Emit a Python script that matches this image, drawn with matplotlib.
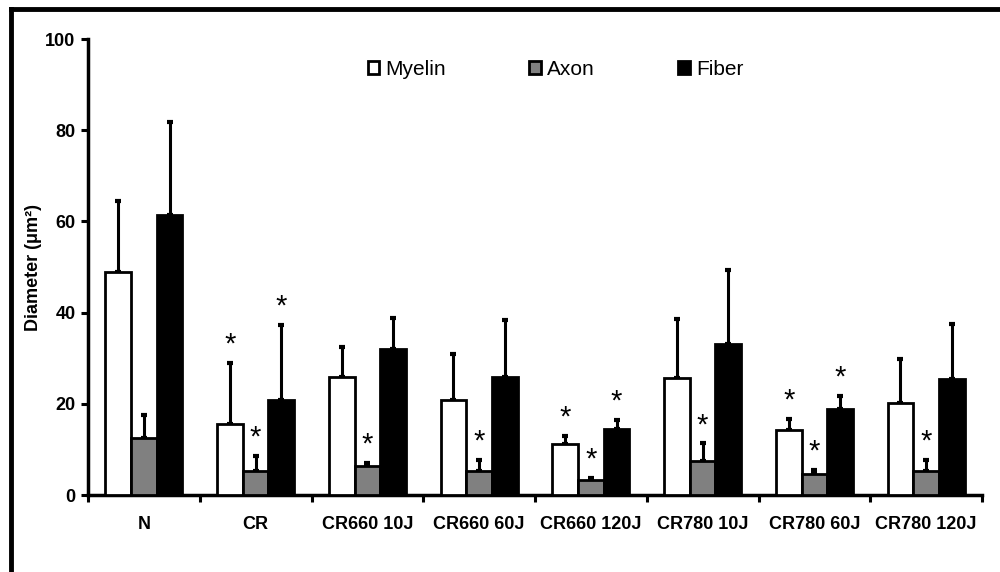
import numpy as np
import matplotlib.pyplot as plt
from matplotlib.lines import Line2D

plt.rcParams['font.family'] = ['Liberation Sans', 'DejaVu Sans']

groups = ['N', 'CR', 'CR660 10J', 'CR660 60J', 'CR660 120J',
          'CR780 10J', 'CR780 60J', 'CR780 120J']

myelin = [48.8, 15.6, 25.9, 20.8, 11.2, 25.7, 14.3, 20.1]
myelin_err = [15.7, 13.3, 6.6, 10.1, 1.7, 12.9, 2.4, 9.7]
axon = [12.6, 5.3, 6.4, 5.3, 3.4, 7.5, 4.5, 5.3]
axon_err = [5.0, 3.3, 0.6, 2.4, 0.3, 3.8, 1.0, 2.4]
fiber = [61.3, 20.8, 32.0, 25.9, 14.5, 33.1, 18.9, 25.4]
fiber_err = [20.4, 16.5, 6.8, 12.5, 1.9, 16.2, 2.8, 12.0]

# significance marks (1 = asterisk above the bar)
myelin_sig = [0, 1, 0, 0, 1, 0, 1, 0]
axon_sig = [0, 1, 1, 1, 1, 1, 1, 1]
fiber_sig = [0, 1, 0, 0, 1, 0, 1, 0]

fig = plt.figure(figsize=(10, 5.72), dpi=100)
ax = fig.add_axes([0.088, 0.1346, 0.894, 0.7972])

x = np.arange(len(groups)) + 0.5
w = 0.23
series = [
    ('Myelin', myelin, myelin_err, myelin_sig, 'white', -w),
    ('Axon', axon, axon_err, axon_sig, '#808080', 0),
    ('Fiber', fiber, fiber_err, fiber_sig, 'black', w),
]

for name, vals, err, sig, color, off in series:
    xs = x + off
    ax.bar(xs, vals, w, color=color, edgecolor='black', linewidth=2,
           label=name, zorder=3)
    ax.errorbar(xs, vals, yerr=[np.zeros(len(vals)), err], fmt='none',
                ecolor='black', elinewidth=2.2, capsize=2.5, capthick=3,
                zorder=2)
    for xi, v, e, s in zip(xs, vals, err, sig):
        if s:
            ax.annotate('*', (xi, v + e), xytext=(0, 3),
                        textcoords='offset points', ha='center', va='bottom',
                        fontsize=21)

ax.set_xlim(0, len(groups))
ax.set_ylim(0, 100)
ax.set_yticks([0, 20, 40, 60, 80, 100])
ax.set_xticks(np.arange(len(groups) + 1))
ax.set_xticklabels([])
ax.set_xticks(x, minor=True)
ax.set_xticklabels(groups, minor=True, fontsize=13, fontweight='bold')
ax.tick_params(axis='x', which='minor', length=0, pad=15)
ax.tick_params(axis='x', which='major', direction='out', length=5, width=2.2)
ax.tick_params(axis='y', direction='out', length=5, width=2.2, pad=4)
for lab in ax.get_yticklabels():
    lab.set_fontsize(13)
    lab.set_fontweight('bold')

for side in ['top', 'right']:
    ax.spines[side].set_visible(False)
for side in ['left', 'bottom']:
    ax.spines[side].set_linewidth(2.5)

ax.set_ylabel('Diameter (μm²)', fontsize=13, fontweight='bold')
ax.yaxis.set_label_coords(-0.051, 0.5)

ax.legend(loc='center left', bbox_to_anchor=(0.313, 0.934), ncol=3,
          frameon=False, fontsize=15, handlelength=0.55, handleheight=0.55,
          handletextpad=0.3, columnspacing=4.0, borderaxespad=0, borderpad=0)

# outer frame on top and left
fig.add_artist(Line2D([0.011, 1.0], [0.984, 0.984], color='black',
                      linewidth=3.5, transform=fig.transFigure))
fig.add_artist(Line2D([0.011, 0.011], [0.0, 0.984], color='black',
                      linewidth=3.5, transform=fig.transFigure))

fig.savefig('out.png', dpi=100)
